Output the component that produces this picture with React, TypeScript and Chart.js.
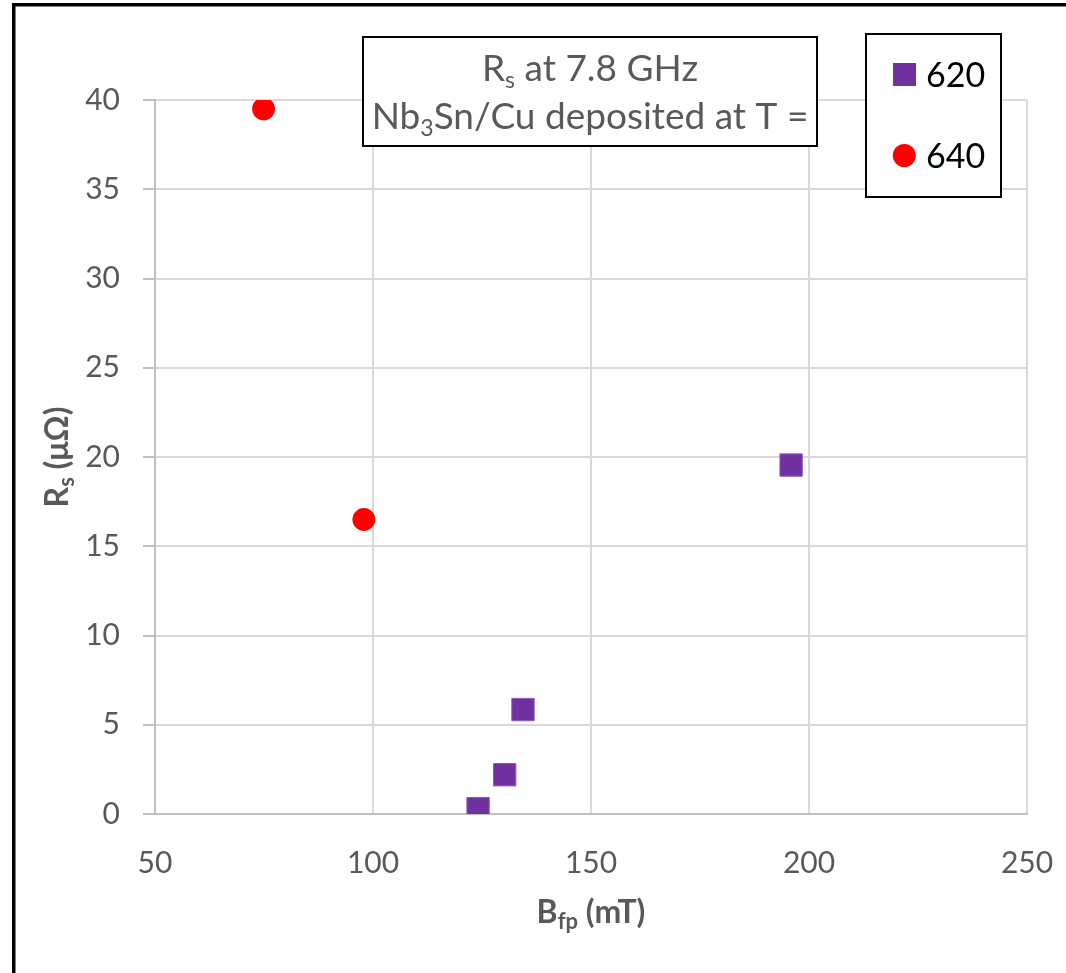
import React, { useEffect, useRef } from 'react';
import { Chart, registerables } from 'chart.js';

Chart.register(...registerables);

// ---- data ----
const seriesLabels = ['620', '640'];
const series620X = [124.1, 130.2, 134.4, 195.9];
const series620Y = [0.3, 2.2, 5.85, 19.55];
const series640X = [74.9, 97.9];
const series640Y = [39.5, 16.5];
const xTickValues = [50, 100, 150, 200, 250];
const yTickValues = [0, 5, 10, 15, 20, 25, 30, 35, 40];
const seriesColors = ['#7030A0', '#FF0000'];

const FONT = 'Lato, "Open Sans", sans-serif';

type Part = { t: string; sub?: boolean };

function drawRich(
  ctx: CanvasRenderingContext2D,
  parts: Part[],
  x: number,
  y: number,
  size: number,
  weight: string,
  color: string,
  align: 'center' | 'left',
  subScale = 0.65,
  subDrop = 0.2
) {
  const subSize = Math.round(size * subScale);
  const fMain = `${weight} ${size}px ${FONT}`;
  const fSub = `${weight} ${subSize}px ${FONT}`;
  let total = 0;
  for (const p of parts) {
    ctx.font = p.sub ? fSub : fMain;
    total += ctx.measureText(p.t).width;
  }
  let cx = align === 'center' ? x - total / 2 : x;
  ctx.fillStyle = color;
  ctx.textAlign = 'left';
  ctx.textBaseline = 'alphabetic';
  for (const p of parts) {
    ctx.font = p.sub ? fSub : fMain;
    ctx.fillText(p.t, cx, y + (p.sub ? size * subDrop : 0));
    cx += ctx.measureText(p.t).width;
  }
}

const decorPlugin = {
  id: 'decor',
  beforeDraw(chart: any) {
    const ctx: CanvasRenderingContext2D = chart.ctx;
    ctx.save();
    ctx.fillStyle = '#ffffff';
    ctx.fillRect(0, 0, chart.width, chart.height);
    ctx.strokeStyle = '#000000';
    ctx.lineWidth = 3.5;
    ctx.strokeRect(13.75, 4.75, chart.width + 50, chart.height + 50);
    ctx.restore();
  },
  afterDraw(chart: any) {
    const ctx: CanvasRenderingContext2D = chart.ctx;
    const area = chart.chartArea;
    ctx.save();

    // axis titles
    const cxMid = (area.left + area.right) / 2;
    const cyMid = (area.top + area.bottom) / 2;
    drawRich(ctx, [{ t: 'B' }, { t: 'fp', sub: true }, { t: ' (mT)' }], cxMid, 923, 32, 'bold', '#595959', 'center', 0.7, 0.2);
    ctx.save();
    ctx.translate(68, cyMid);
    ctx.rotate(-Math.PI / 2);
    drawRich(ctx, [{ t: 'R' }, { t: 's', sub: true }, { t: ' (\u03BC\u03A9)' }], 0, 0, 32, 'bold', '#595959', 'center', 0.7, 0.2);
    ctx.restore();

    // title box
    const bx = 363, by = 37, bw = 454, bh = 109;
    ctx.fillStyle = '#ffffff';
    ctx.fillRect(bx, by, bw, bh);
    ctx.strokeStyle = '#000000';
    ctx.lineWidth = 2;
    ctx.strokeRect(bx, by, bw, bh);
    const tcx = bx + bw / 2;
    drawRich(ctx, [{ t: 'R' }, { t: 's', sub: true }, { t: ' at 7.8 GHz' }], tcx, 81, 37, 'normal', '#595959', 'center', 0.62, 0.2);
    drawRich(ctx, [{ t: 'Nb' }, { t: '3', sub: true }, { t: 'Sn/Cu deposited at T =' }], tcx, 129, 37, 'normal', '#595959', 'center', 0.62, 0.2);

    // legend box
    const lx = 866, ly = 34, lw = 135, lh = 163;
    ctx.fillStyle = '#ffffff';
    ctx.fillRect(lx, ly, lw, lh);
    ctx.strokeStyle = '#000000';
    ctx.lineWidth = 2;
    ctx.strokeRect(lx, ly, lw, lh);

    const ds = chart.data.datasets;
    ctx.fillStyle = ds[0].backgroundColor;
    ctx.fillRect(893, 63, 23, 23);
    ctx.fillStyle = ds[1].backgroundColor;
    ctx.beginPath();
    ctx.arc(904.3, 155.5, 11.5, 0, Math.PI * 2);
    ctx.fill();
    ctx.fillStyle = '#000000';
    ctx.font = `34px ${FONT}`;
    ctx.textAlign = 'left';
    ctx.textBaseline = 'alphabetic';
    ctx.fillText(ds[0].label, 926, 87);
    ctx.fillText(ds[1].label, 926, 167.5);

    ctx.restore();
  },
};

export default function App() {
  const ref = useRef<HTMLCanvasElement | null>(null);

  useEffect(() => {
    if (!ref.current) return;
    const chart = new Chart(ref.current, {
      type: 'scatter',
      data: {
        datasets: [
          {
            label: seriesLabels[0],
            data: series620X.map((x, i) => ({ x, y: series620Y[i] })),
            pointStyle: 'rect',
            pointRadius: 15.8,
            backgroundColor: seriesColors[0],
            borderColor: '#8b5bbd',
            borderWidth: 1,
          },
          {
            label: seriesLabels[1],
            data: series640X.map((x, i) => ({ x, y: series640Y[i] })),
            pointStyle: 'circle',
            pointRadius: 11.4,
            backgroundColor: seriesColors[1],
            borderWidth: 0,
          },
        ],
      },
      options: {
        responsive: false,
        animation: false,
        events: [],
        layout: { padding: { top: 100, right: 39, left: 0, bottom: 0 } },
        plugins: { legend: { display: false }, tooltip: { enabled: false }, title: { display: false } },
        scales: {
          x: {
            type: 'linear',
            min: 50,
            max: 250,
            afterBuildTicks: (s: any) => {
              s.ticks = xTickValues.map((v) => ({ value: v }));
            },
            afterFit: (s: any) => {
              s.height = 159;
              s.paddingLeft = 0;
              s.paddingRight = 0;
            },
            grid: { color: '#d9d9d9', lineWidth: 2, drawTicks: false },
            border: { color: '#bfbfbf', width: 2 },
            ticks: {
              font: { family: FONT, size: 30 },
              color: '#595959',
              padding: 31,
              maxRotation: 0,
              autoSkip: false,
            },
          },
          y: {
            type: 'linear',
            min: 0,
            max: 40,
            afterBuildTicks: (s: any) => {
              s.ticks = yTickValues.map((v) => ({ value: v }));
            },
            afterFit: (s: any) => {
              s.width = 155;
              s.paddingTop = 0;
              s.paddingBottom = 0;
            },
            grid: { color: '#d9d9d9', lineWidth: 2, tickLength: 12, tickColor: '#bfbfbf' },
            border: { color: '#bfbfbf', width: 2 },
            ticks: {
              font: { family: FONT, size: 30 },
              color: '#595959',
              padding: 23,
              autoSkip: false,
            },
          },
        },
      },
      plugins: [decorPlugin],
    });
    return () => chart.destroy();
  }, []);

  return (
    <div style={{ position: 'absolute', left: 0, top: 0, width: 1066, height: 973, overflow: 'hidden' }}>
      <canvas ref={ref} width={1066} height={973} style={{ display: 'block', width: 1066, height: 973 }} />
    </div>
  );
}
